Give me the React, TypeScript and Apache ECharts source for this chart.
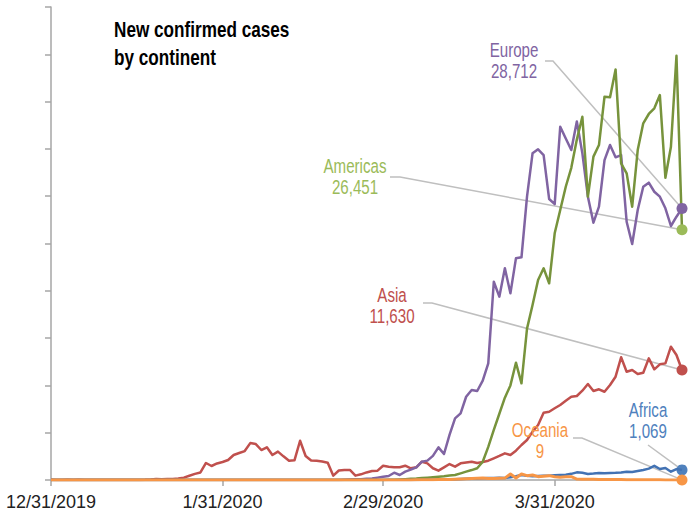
import React, { useEffect, useRef } from "react";
import * as echarts from "echarts";

const FONT = '"Liberation Sans", Arial, sans-serif';

// Daily new confirmed cases, 12/31/2019 .. 4/23/2020
const europe: number[] = [
  0, 0, 0, 0, 0, 0, 0, 0, 0, 0,
  0, 0, 0, 0, 0, 0, 0, 0, 0, 0,
  0, 0, 0, 0, 0, 3, 0, 1, 1, 3,
  1, 3, 1, 1, 2, 1, 2, 1, 0, 1,
  0, 1, 2, 3, 0, 0, 0, 1, 0, 0,
  1, 0, 2, 15, 40, 70, 90, 120, 150, 250,
  350, 420, 770, 530, 880, 1100, 1340, 1930, 2050, 2550,
  3450, 2750, 4760, 6520, 7050, 8800, 9510, 9410, 10500, 12330,
  20960, 19380, 22380, 19730, 23430, 23540, 29950, 34530, 34960, 34350,
  29700, 29170, 37340, 36100, 34880, 37900, 34530, 29950, 27200, 28890,
  33820, 35410, 34110, 34350, 27300, 24950, 28540, 31000, 31430, 30470,
  29950, 28720, 26850, 27830, 28712,
];

const americas: number[] = [
  0, 0, 0, 0, 0, 0, 0, 0, 0, 0,
  0, 0, 0, 0, 0, 0, 0, 0, 0, 0,
  0, 1, 0, 0, 0, 1, 0, 0, 0, 0,
  1, 0, 1, 0, 0, 0, 0, 0, 0, 0,
  0, 0, 0, 0, 0, 0, 0, 0, 0, 0,
  0, 0, 0, 0, 0, 1, 0, 2, 5, 8,
  10, 20, 30, 50, 80, 120, 150, 200, 250, 300,
  350, 400, 480, 530, 700, 880, 1050, 1240, 1930, 3500,
  5300, 7000, 8700, 10000, 12400, 10220, 16000, 18500, 21140, 22380,
  20790, 26080, 28540, 31000, 33000, 36000, 38400, 29950, 34180, 35410,
  40520, 40450, 43400, 33470, 32420, 28890, 34880, 37700, 38690, 39290,
  40690, 31950, 35230, 44850, 26451,
];

const asia: number[] = [
  27, 0, 0, 17, 0, 15, 0, 0, 0, 0,
  0, 0, 0, 1, 1, 0, 4, 17, 50, 100,
  90, 110, 110, 150, 250, 450, 650, 800, 1800, 1480,
  1750, 1900, 2110, 2640, 2850, 3060, 3900, 3800, 3170, 3460,
  2640, 3000, 2500, 2040, 2100, 4150, 2540, 2060, 2040, 1950,
  1830, 460, 1000, 1060, 1060, 460, 600, 800, 950, 990,
  1510, 1400, 1340, 1340, 1510, 1240, 1340, 1930, 1760, 1240,
  990, 1340, 1690, 1410, 1760, 1850, 1930, 1800, 1900, 2040,
  2290, 2540, 2820, 2640, 3100, 3700, 4230, 5110, 5810, 7110,
  7220, 7580, 7930, 8380, 8800, 8880, 9440, 10150, 9410, 9590,
  9330, 10040, 10920, 12970, 11450, 11630, 11200, 11340, 12860, 11700,
  12230, 12330, 14090, 13210, 11630,
];

const africa: number[] = [
  0, 0, 0, 0, 0, 0, 0, 0, 0, 0,
  0, 0, 0, 0, 0, 0, 0, 0, 0, 0,
  0, 0, 0, 0, 0, 0, 0, 0, 0, 0,
  0, 0, 0, 0, 0, 0, 0, 0, 0, 0,
  0, 0, 0, 0, 0, 1, 0, 0, 0, 0,
  0, 0, 0, 0, 0, 0, 1, 0, 1, 1,
  2, 3, 4, 5, 6, 8, 10, 15, 20, 30,
  40, 50, 60, 80, 100, 120, 150, 160, 180, 200,
  220, 250, 200, 300, 400, 530, 450, 390, 420, 450,
  460, 500, 540, 560, 650, 810, 760, 640, 680, 740,
  720, 740, 760, 800, 880, 850, 950, 1060, 1200, 1500,
  1160, 1270, 880, 1160, 1069,
];

const oceania: number[] = [
  0, 0, 0, 0, 0, 0, 0, 0, 0, 0,
  0, 0, 0, 0, 0, 0, 0, 0, 0, 0,
  0, 0, 0, 0, 0, 4, 0, 1, 0, 2,
  2, 0, 1, 3, 0, 0, 0, 0, 0, 0,
  0, 0, 0, 0, 0, 0, 0, 0, 0, 0,
  0, 0, 0, 0, 0, 0, 0, 0, 1, 2,
  0, 2, 5, 5, 10, 10, 15, 20, 25, 30,
  40, 50, 60, 80, 100, 120, 150, 180, 200, 150,
  150, 180, 200, 630, 210, 630, 460, 530, 350, 400,
  460, 350, 280, 350, 350, 100, 90, 80, 70, 60,
  55, 50, 45, 40, 30, 30, 25, 20, 20, 15,
  15, 12, 10, 10, 9,
];

const tickLabels: string[] = ["12/31/2019", "1/31/2020", "2/29/2020", "3/31/2020"];

const dates: string[] = (() => {
  const out: string[] = [];
  const d = new Date(2019, 11, 31);
  for (let i = 0; i < europe.length; i++) {
    out.push(`${d.getMonth() + 1}/${d.getDate()}/${d.getFullYear()}`);
    d.setDate(d.getDate() + 1);
  }
  return out;
})();

type Spec = {
  name: string;
  values: number[];
  line: string;
  dot: string;
  label: string;
  width: number;
  tx: number;
  ty: number;
  lx1: number;
  lx2: number;
  ly: number;
};

const specs: Spec[] = [
  { name: "Asia", values: asia, line: "#C0504D", dot: "#C0504D", label: "#C0504D", width: 2.5, tx: 392, ty: 305, lx1: 423, lx2: 432, ly: 303 },
  { name: "Europe", values: europe, line: "#8064A2", dot: "#8064A2", label: "#8064A2", width: 2.5, tx: 514, ty: 60, lx1: 545, lx2: 553, ly: 61 },
  { name: "Americas", values: americas, line: "#77933C", dot: "#9BBB59", label: "#9BBB59", width: 2.5, tx: 355, ty: 176, lx1: 390, lx2: 400, ly: 177 },
  { name: "Africa", values: africa, line: "#4272B3", dot: "#4F81BD", label: "#4F81BD", width: 2.5, tx: 648, ty: 420, lx1: 648, lx2: 648, ly: 445 },
  { name: "Oceania", values: oceania, line: "#F79646", dot: "#F79646", label: "#F79646", width: 3, tx: 540, ty: 440, lx1: 573, lx2: 582, ly: 438 },
];

const AXIS = "#A6A6A6";
const isTick = (_i: number, v: string) => tickLabels.includes(v);

export default function App() {
  const ref = useRef<HTMLDivElement>(null);
  useEffect(() => {
    document.body.style.margin = "0";
    const chart = echarts.init(ref.current!, null, { renderer: "svg" });
    const last = dates.length - 1;
    chart.setOption({
      animation: false,
      grid: { left: 51, right: 7, top: 7, bottom: 33, containLabel: false },
      xAxis: {
        type: "category",
        data: dates,
        boundaryGap: false,
        axisLine: { lineStyle: { color: AXIS, width: 1.5 } },
        axisTick: { show: true, interval: isTick, length: 6, lineStyle: { color: AXIS, width: 1.5 } },
        axisLabel: { interval: isTick, fontSize: 18, fontFamily: FONT, color: "#222", margin: 13 },
        splitLine: { show: false },
      },
      yAxis: {
        type: "value",
        min: 0,
        max: 50000,
        interval: 5000,
        axisLine: { show: true, lineStyle: { color: AXIS, width: 1.5 } },
        axisTick: { show: true, length: 6, lineStyle: { color: AXIS, width: 1.5 } },
        axisLabel: { show: false },
        splitLine: { show: false },
      },
      series: specs.map((s, k) => ({
        type: "line",
        name: s.name,
        data: s.values,
        symbol: "none",
        silent: true,
        z: 2 + k,
        lineStyle: { color: s.line, width: s.width, join: "round" },
        itemStyle: { color: s.line },
        markPoint: {
          symbol: "circle",
          symbolSize: 11,
          silent: true,
          itemStyle: { color: s.dot },
          label: { show: false },
          data: [{ coord: [last, s.values[last]] }],
        },
      })),
    });

    const graphics: any[] = [
      {
        type: "text",
        x: 114,
        y: 15,
        scaleX: 0.78,
        style: {
          text: "New confirmed cases\nby continent",
          fontSize: 22,
          fontWeight: "bold",
          fontFamily: FONT,
          fill: "#000",
          lineHeight: 28,
          align: "left",
          verticalAlign: "top",
        },
      },
    ];
    specs.forEach((s) => {
      const p = chart.convertToPixel({ gridIndex: 0 }, [last, s.values[last]]) as number[];
      graphics.push({
        type: "polyline",
        z: 1,
        silent: true,
        shape: { points: [[s.lx1, s.ly], [s.lx2, s.ly], [p[0], p[1]]] },
        style: { stroke: "#BFBFBF", lineWidth: 1.5, fill: null },
      });
      graphics.push({
        type: "text",
        x: s.tx,
        y: s.ty,
        scaleX: 0.72,
        z: 10,
        style: {
          text: `${s.name}\n${s.values[last].toLocaleString("en-US")}`,
          fontSize: 21,
          fontFamily: FONT,
          fill: s.label,
          lineHeight: 21,
          align: "center",
          verticalAlign: "middle",
        },
      });
    });
    chart.setOption({ graphic: graphics });
    return () => chart.dispose();
  }, []);
  return <div ref={ref} style={{ width: 689, height: 513 }} />;
}
